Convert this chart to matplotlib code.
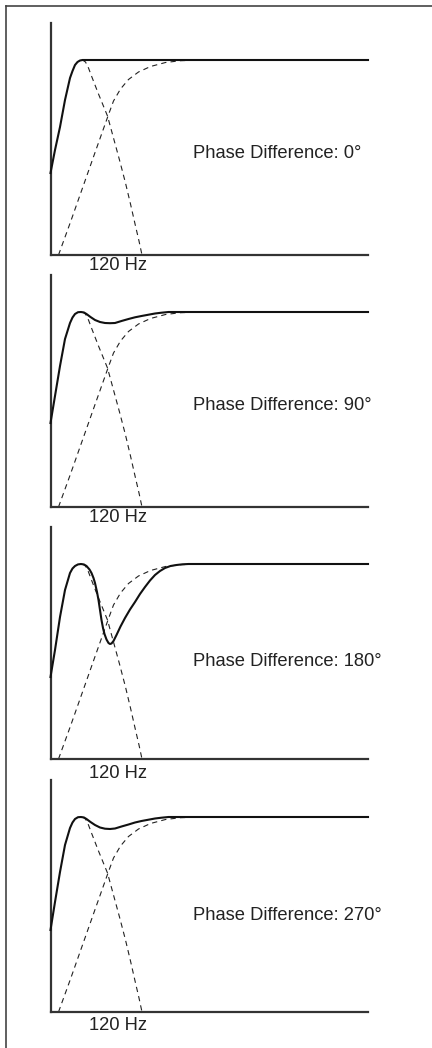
import matplotlib.pyplot as plt
from matplotlib.lines import Line2D

plt.rcParams['font.family'] = ['Liberation Sans', 'DejaVu Sans']
plt.rcParams['lines.scale_dashes'] = False

phases = [0, 90, 180, 270]
crossover_label = '120 Hz'

# dashed curves: sub lowpass and mains highpass (same in every panel)
lp_x = [32, 35, 38, 41, 48, 57, 63, 69, 75, 80, 85, 88.5, 91.5]
lp_y = [195, 193, 187, 179, 161, 139, 117, 95, 72, 51, 29, 14, 0]
hp_x = [8, 20, 32, 44, 57.5, 63, 70, 78, 88, 100, 115, 130, 150, 317.5]
hp_y = [0, 33, 67, 101, 139, 154, 166, 175.5, 183, 188.5, 192.5, 194.3, 195, 195]

# solid curves: summed response for each phase difference
sum0_x = [0, 4.5, 9.5, 14.5, 19.5, 22, 24.5, 27, 29.5, 32, 35, 317.5]
sum0_y = [82, 105, 128, 155, 177, 184, 190, 193, 194.5, 195, 195, 195]

sum90_x = [0, 4.5, 9.5, 14.5, 19.5, 22, 24.5, 27.5, 30.5, 33.5, 36, 40, 44.5, 49.5, 54.5,
           59.5, 64.5, 71, 78, 84.5, 91, 98, 104.5, 111, 118, 126, 135, 317.5]
sum90_y = [84, 111, 141, 168, 184, 189.5, 193, 194.8, 195, 194.5, 193, 190, 187, 185, 184,
           183.8, 184, 186, 188, 189.7, 191, 192.3, 193.5, 194.3, 195, 195, 195, 195]

sum180_x = [0, 4.5, 9.5, 14.5, 19.5, 22, 24.5, 27.5, 30.5, 33.5, 36, 39, 41, 43, 44.5, 46.5,
            48, 49.5, 51, 52.5, 54, 56, 58, 59.5, 61, 63, 66, 70, 74.5, 79.5, 84.5, 89.5,
            94.5, 99.5, 104.5, 109.5, 114.5, 120, 126, 132, 138, 317.5]
sum180_y = [82, 109, 142, 169, 186, 190.5, 193, 194.6, 195, 194.5, 193, 189.5, 186, 181, 176,
            167, 159, 149, 139, 131, 125, 119.5, 116, 115, 115.5, 118, 124, 132.5, 141, 149.5,
            157, 165, 172, 178.5, 184, 188, 191, 193, 194, 194.7, 195, 195]

sum270_x = [0, 4.5, 9.5, 14.5, 19.5, 22, 24.5, 27.5, 30.5, 33.5, 36, 40, 44.5, 49.5, 54.5,
            59.5, 64.5, 71, 78, 84.5, 91, 98, 104.5, 111, 118, 126, 135, 317.5]
sum270_y = [82, 110, 140, 167, 184, 189.5, 193, 194.8, 195, 194.5, 193, 190, 187, 184.5, 183.3,
            183, 183.5, 185.5, 187.5, 189.5, 191, 192.3, 193.5, 194.3, 195, 195, 195, 195]

sums = [(sum0_x, sum0_y), (sum90_x, sum90_y), (sum180_x, sum180_y), (sum270_x, sum270_y)]

W, H = 432, 1048
fig = plt.figure(figsize=(W / 100, H / 100), dpi=100)

# layout in pixels
ax_left, ax_right = 50.5, 368
ax_h = 232
bottoms = [255, 507, 759, 1012]
phase_text_y = [102, 102, 97, 97]
hz_text_y = [-10.5, -11, -14, -14]

axis_col = '#333333'
for i, ph in enumerate(phases):
    b = bottoms[i]
    ax = fig.add_axes([ax_left / W, 1 - b / H, (ax_right - ax_left) / W, ax_h / H])
    ax.set_xlim(0, ax_right - ax_left)
    ax.set_ylim(0, ax_h)
    for s in ['top', 'right']:
        ax.spines[s].set_visible(False)
    for s in ['left', 'bottom']:
        ax.spines[s].set_color(axis_col)
        ax.spines[s].set_linewidth(1.6)
    ax.set_xticks([])
    ax.set_yticks([])
    ax.patch.set_alpha(0)

    ax.plot(lp_x, lp_y, color='#222222', lw=0.8, dashes=(3.8, 3), clip_on=False)
    ax.plot(hp_x, hp_y, color='#222222', lw=0.8, dashes=(3.8, 3), clip_on=False)
    sx, sy = sums[i]
    ax.plot(sx, sy, color='#111111', lw=1.5, solid_joinstyle='round', zorder=3, clip_on=False)

    ax.text(142.5, phase_text_y[i], f'Phase Difference: {ph}\u00b0', fontsize=13.2,
            color='#222222', ha='left', va='center')
    ax.text(67.8, hz_text_y[i], crossover_label, fontsize=13.2, color='#222222',
            ha='center', va='center')

# frame on the left and top
fig.add_artist(Line2D([5.5 / W, 5.5 / W], [0, 1 - 5.5 / H], color='#444444', lw=1.2))
fig.add_artist(Line2D([5.5 / W, 1], [1 - 5.5 / H, 1 - 5.5 / H], color='#444444', lw=1.2))

fig.savefig('out.png', dpi=100)
